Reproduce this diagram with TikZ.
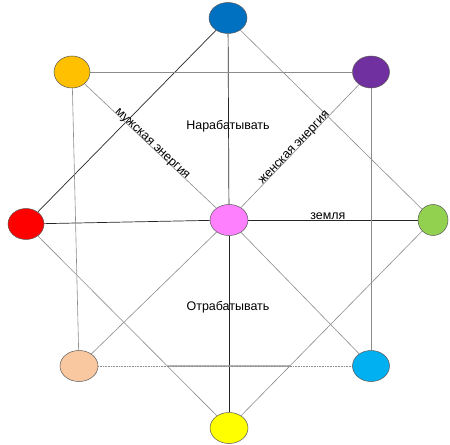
\documentclass[tikz,border=0pt]{standalone}
\usepackage{fontspec}
\setmainfont{Liberation Sans}
\usetikzlibrary{shapes.geometric, backgrounds}
\definecolor{ballblue}{HTML}{0070C0}
\definecolor{ballorange}{HTML}{FFC000}
\definecolor{ballpurple}{HTML}{7030A0}
\definecolor{ballred}{HTML}{FF0000}
\definecolor{ballpink}{HTML}{FF80FF}
\definecolor{ballgreen}{HTML}{92D050}
\definecolor{ballpeach}{HTML}{FAC8A0}
\definecolor{ballcyan}{HTML}{00B0F0}
\definecolor{ballyellow}{HTML}{FFFF00}

\begin{document}
\begin{tikzpicture}[x=1bp, y=-1bp,
    ball/.style={ellipse, draw=black!65, line width=0.5bp, minimum width=38bp, minimum height=31bp, inner sep=0pt},
    darkline/.style={draw=black!85, line width=0.7bp},
    greyline/.style={draw=black!45, line width=0.6bp},
    lbl/.style={font=\fontsize{12.5}{15}\selectfont, inner sep=1bp}
  ]
    \useasboundingbox (0,0) rectangle (450,445);
    % circles
    \node[ball, fill=ballblue] (top) at (228,18) {};
    \node[ball, fill=ballorange, minimum width=36bp, minimum height=32bp] (nw) at (72,72) {};
    \node[ball, fill=ballpurple, minimum width=37bp, minimum height=32bp] (ne) at (371,72) {};
    \node[ball, fill=ballred, minimum width=36bp] (west) at (26,224) {};
    \node[ball, fill=ballpink] (mid) at (229,220) {};
    \node[ball, fill=ballgreen, minimum width=30bp] (east) at (433,220) {};
    \node[ball, fill=ballpeach] (sw) at (79,366) {};
    \node[ball, fill=ballcyan, minimum width=37bp] (se) at (371,366) {};
    \node[ball, fill=ballyellow] (bottom) at (229,428) {};
    % text
    \node[lbl] (work) at (228,126) {Нарабатывать};
    \node[lbl] (pay) at (228,307) {Отрабатывать};
    \begin{scope}[on background layer]
      \draw[darkline] (top) -- (mid);
      \draw[darkline] (mid) -- (bottom);
      \draw[darkline] (top) -- (west);
      \draw[darkline] (west) -- (mid);
      \draw[darkline] (mid) -- node[lbl, pos=0.47, anchor=base] (earth) {земля} (east);
      \draw[greyline] (top) -- (east);
      \draw[greyline] (nw) -- (ne);
      \draw[greyline] (nw) -- (sw);
      \draw[greyline] (ne) -- (se);
      \draw[greyline] (nw) -- node[lbl, sloped, pos=0.5, anchor=base] (male) {мужская энергия} (mid);
      \draw[greyline] (mid) -- (se);
      \draw[greyline] (mid) -- node[lbl, sloped, pos=0.47, anchor=base] (female) {женская энергия} (ne);
      \draw[greyline] (mid) -- (sw);
      \draw[greyline] (west) -- (bottom);
      \draw[greyline] (east) -- (bottom);
      \draw[greyline, densely dotted] (sw) -- (se);
      \draw[greyline, line width=1.2bp]
        (intersection of west--bottom and sw--se) -- (intersection of east--bottom and sw--se);
    \end{scope}
\end{tikzpicture}
\end{document}
